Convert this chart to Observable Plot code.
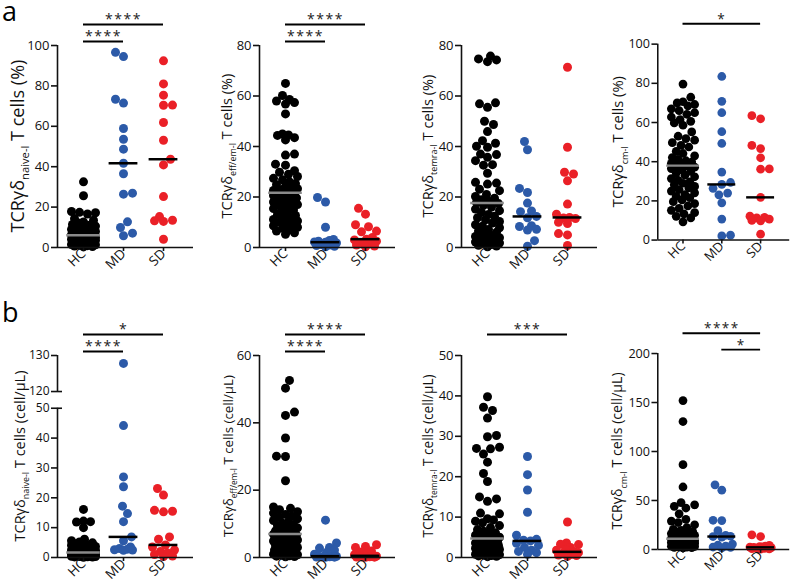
<!DOCTYPE html>
<html><head><meta charset="utf-8">
<script src="https://cdn.jsdelivr.net/npm/d3@7"></script>
<script src="https://cdn.jsdelivr.net/npm/@observablehq/plot@0.6"></script>
<style>
body{margin:0;background:#fff;}
#root{position:relative;width:796px;height:584px;overflow:hidden;font-family:"Open Sans",sans-serif;}
.panel{position:absolute;}
.letter{position:absolute;font-size:27px;line-height:27px;color:#000;font-family:"Open Sans",sans-serif;}
</style></head><body><div id="root"></div>
<script>
const groups = ["HC", "MD", "SD"];
const groupColors = ["#000000", "#2c5aa8", "#ea2027"];

// ---- row a: percentages ----
const naiveHC_pct = [32.5,25.6,17.8,17.4,17.2,16.6,14.3,13.5,12.6,12.1,11.4,11.0,10.6,10.4,9.8,9.5,9.2,9.0,8.6,8.4,8.1,7.9,7.6,7.5,7.2,7.0,6.9,6.7,6.6,6.4,6.3,6.2,6.0,5.8,5.7,5.5,5.3,5.2,5.0,4.8,4.6,4.5,4.3,4.1,3.9,3.8,3.5,3.4,3.2,3.0,2.9,2.7,2.5,2.3,2.1,2.0,1.8,1.5,1.3,1.1,0.9,0.7,0.5,0.3];
const naiveMD_pct = [96.6,94.5,73.4,71.5,58.9,53.6,48.7,41.7,36.5,26.9,26.4,12.7,9.9,7.1,5.8];
const naiveSD_pct = [92.4,81.0,75.4,70.5,70.4,61.9,53.1,43.7,40.9,25.2,15.3,13.5,13.2,12.9,4.1];

const effemHC_pct = [65.0,60.2,58.6,58.0,57.4,56.8,52.9,45.0,44.6,44.4,43.5,42.6,37.0,36.6,33.0,32.6,30.4,29.8,29.0,28.1,27.4,26.8,26.0,25.3,24.9,24.2,23.8,23.3,22.9,22.6,22.2,21.9,21.5,21.1,20.6,20.2,19.6,19.1,18.7,18.0,17.6,17.0,16.5,16.1,15.4,14.9,14.3,13.8,13.2,12.7,12.0,11.6,11.1,10.5,10.0,9.6,9.1,8.6,8.0,7.6,7.0,6.5,5.8,5.2];
const effemMD_pct = [19.8,18.0,8.0,3.2,2.8,2.5,2.2,2.1,1.8,1.5,1.2,1.0,0.8,0.5,0.3];
const effemSD_pct = [15.5,13.2,9.0,8.2,6.5,6.2,4.0,3.3,3.0,2.5,2.0,1.5,1.0,0.6,0.3];

const temraHC_pct = [75.8,74.7,74.3,73.6,57.3,56.9,55.5,50.0,48.7,45.9,42.3,41.3,40.1,39.7,37.0,36.8,35.7,34.4,32.8,32.6,29.4,25.8,25.5,25.1,23.1,22.5,21.0,20.2,19.5,18.9,18.3,17.8,17.4,16.7,16.0,15.2,14.6,13.9,13.1,12.4,11.8,11.0,10.3,9.7,9.0,8.4,7.8,7.1,6.5,6.0,5.4,4.9,4.4,3.9,3.5,3.0,2.6,2.2,1.8,1.5,1.2,0.9,0.6,0.3];
const temraMD_pct = [42.0,38.7,23.4,21.8,17.6,14.5,14.2,12.3,11.8,8.6,8.3,7.2,6.9,2.7,0.5];
const temraSD_pct = [71.4,39.7,29.8,29.1,26.4,17.2,13.2,11.9,11.7,11.5,10.0,9.5,5.5,5.0,0.8];

const cmHC_pct = [79.6,72.9,70.6,70.0,69.2,68.5,67.0,66.1,65.0,64.2,62.8,61.5,60.6,59.8,58.6,55.2,53.0,51.8,51.0,49.7,48.3,47.5,45.3,44.2,43.0,42.1,41.2,40.5,39.8,39.2,38.6,38.2,37.8,37.2,36.5,35.8,35.0,34.2,33.1,32.3,31.4,30.5,29.7,29.0,28.2,27.4,26.6,25.8,25.0,24.1,23.2,22.3,21.6,20.5,19.6,18.6,17.4,16.2,15.2,14.0,13.4,12.1,11.3,9.3];
const cmMD_pct = [83.5,70.8,65.0,55.3,49.3,34.7,29.4,28.4,26.4,24.0,23.1,19.0,10.7,2.5,2.1];
const cmSD_pct = [63.5,61.9,48.3,46.7,42.0,36.3,36.2,21.8,12.2,11.6,11.3,10.7,10.0,9.8,3.0];

// ---- row b: absolute counts (cell/µL) ----
const naiveHC_abs = [16.1,12.2,12.0,11.9,10.0,6.1,5.6,5.2,4.9,4.6,4.4,4.1,3.9,3.7,3.5,3.3,3.1,3.0,2.8,2.7,2.6,2.5,2.4,2.3,2.2,2.1,2.0,1.95,1.9,1.85,1.8,1.75,1.65,1.6,1.55,1.5,1.45,1.4,1.35,1.3,1.25,1.2,1.15,1.1,1.05,1.0,0.95,0.9,0.85,0.8,0.75,0.7,0.65,0.6,0.55,0.5,0.45,0.4,0.35,0.3,0.25,0.2,0.15,0.1];
const naiveMD_abs = [127.8,44.2,27.0,23.7,17.2,14.7,12.0,6.9,5.6,3.5,3.0,2.8,2.6,2.5,2.4];
const naiveSD_abs = [23.1,20.9,15.8,15.5,15.3,6.9,6.1,4.2,3.5,2.5,2.0,1.5,1.0,0.5,0.3];

const effemHC_abs = [52.6,50.3,43.2,42.2,35.5,30.1,30.0,22.8,15.0,14.6,14.2,13.6,13.2,12.8,12.3,11.9,11.5,11.0,10.6,10.2,9.8,9.5,9.1,8.8,8.5,8.2,7.9,7.7,7.5,7.3,7.2,7.1,6.9,6.7,6.4,6.1,5.8,5.5,5.2,4.9,4.6,4.3,4.0,3.7,3.5,3.2,3.0,2.8,2.6,2.4,2.2,2.0,1.8,1.6,1.5,1.3,1.1,1.0,0.8,0.7,0.5,0.4,0.3,0.2];
const effemMD_abs = [11.1,4.3,3.0,2.8,2.2,1.5,1.0,0.4,0.35,0.3,0.25,0.2,0.15,0.1,0.05];
const effemSD_abs = [3.8,3.3,3.0,1.9,1.6,1.2,0.8,0.5,0.4,0.3,0.25,0.2,0.15,0.1,0.05];

const temraHC_abs = [39.8,37.2,36.4,34.5,30.2,29.9,27.3,27.0,26.9,25.6,23.6,20.8,18.8,15.0,14.5,13.9,11.0,10.8,9.6,9.3,9.0,8.6,7.9,7.4,6.9,6.5,6.1,5.8,5.5,5.2,5.0,4.8,4.6,4.4,4.2,4.0,3.8,3.6,3.4,3.2,3.0,2.8,2.6,2.5,2.3,2.2,2.0,1.9,1.8,1.6,1.5,1.4,1.3,1.2,1.1,1.0,0.9,0.8,0.7,0.6,0.5,0.4,0.3,0.2];
const temraMD_abs = [25.0,20.5,16.7,11.2,5.5,4.5,4.3,4.1,3.5,3.0,2.5,1.8,1.5,1.2,0.8];
const temraSD_abs = [8.8,3.6,3.3,3.2,2.5,2.0,1.8,1.4,1.2,1.0,0.9,0.8,0.6,0.5,0.3];

const cmHC_abs = [152.0,130.6,86.6,63.8,47.9,45.6,44.0,42.3,36.4,30.7,29.0,27.5,25.2,22.4,20.6,19.5,18.3,17.6,16.9,16.2,15.6,15.0,14.4,13.9,13.4,12.9,12.5,12.1,11.8,11.5,11.2,11.0,10.8,10.5,10.2,9.9,9.6,9.3,9.0,8.7,8.4,8.1,7.8,7.5,7.2,6.9,6.6,6.3,6.0,5.7,5.4,5.1,4.8,4.5,4.2,3.9,3.6,3.3,3.0,2.7,2.4,2.1,1.8,1.5];
const cmMD_abs = [66.0,60.5,29.8,29.5,19.2,14.5,13.5,13.2,12.5,5.5,4.5,3.5,2.5,2.0,1.5];
const cmSD_abs = [14.9,13.2,4.3,3.5,3.0,2.6,2.4,2.2,1.9,1.6,1.3,1.0,0.8,0.5,0.3];

// tick labels
const ticksPct100 = [0,20,40,60,80,100];
const ticksPct80 = [0,20,40,60,80];
const ticksNaiveAbs = [0,10,20,30,40,50,120,130];
const ticksEffemAbs = [0,20,40,60];
const ticksTemraAbs = [0,10,20,30,40,50];
const ticksCmAbs = [0,50,100,150,200];

// significance: [from group, to group, stars, level(0 upper,1 lower)]
const sigA1 = [[0,2,"****",0],[0,1,"****",1]];
const sigA2 = [[0,2,"****",0],[0,1,"****",1]];
const sigA3 = [];
const sigA4 = [[0,2,"*",0]];
const sigB1 = [[0,2,"*",0],[0,1,"****",1]];
const sigB2 = [[0,2,"****",0],[0,1,"****",1]];
const sigB3 = [[0,2,"***",0]];
const sigB4 = [[0,2,"****",0],[1,2,"*",1]];

const subscripts = ["naive-l", "eff/em-l", "temra-l", "cm-l"];
const unitLabels = ["(%)", "(cell/\u00b5L)"];

// broken y axis for the naive absolute panel: 0–50 below the break, 120–130 above it
const breakLow = 50, breakHigh = 120, breakGap = 5.6, upperStretch = 1.207;
const brk = v => v <= breakLow ? v : breakLow + breakGap + (v - breakHigh) * upperStretch;
const ident = v => v;

// layout
const colLeft = [0, 202, 404, 602];
const rowTop = [0, 290];
const rowDims = [{h: 290, mt: 45, mb: 43}, {h: 294, mt: 65, mb: 27}];
const labelOff = [[33, 27, 28, 35], [32, 26, 28, 36]];
const labelLen = [[173, 145, 143, 135], [171, 162, 163, 162]];

const panels = [
  {row:0,col:0,series:[naiveHC_pct,naiveMD_pct,naiveSD_pct],max:100,ticks:ticksPct100,sig:sigA1,f:ident,tfs:13},
  {row:0,col:1,series:[effemHC_pct,effemMD_pct,effemSD_pct],max:80,ticks:ticksPct80,sig:sigA2,f:ident,tfs:13},
  {row:0,col:2,series:[temraHC_pct,temraMD_pct,temraSD_pct],max:80,ticks:ticksPct80,sig:sigA3,f:ident,tfs:13},
  {row:0,col:3,series:[cmHC_pct,cmMD_pct,cmSD_pct],max:100,ticks:ticksPct100,sig:sigA4,f:ident,tfs:13},
  {row:1,col:0,series:[naiveHC_abs,naiveMD_abs,naiveSD_abs],max:130,ticks:ticksNaiveAbs,sig:sigB1,f:brk,broken:true,tfs:12},
  {row:1,col:1,series:[effemHC_abs,effemMD_abs,effemSD_abs],max:60,ticks:ticksEffemAbs,sig:sigB2,f:ident,tfs:13},
  {row:1,col:2,series:[temraHC_abs,temraMD_abs,temraSD_abs],max:50,ticks:ticksTemraAbs,sig:sigB3,f:ident,tfs:13},
  {row:1,col:3,series:[cmHC_abs,cmMD_abs,cmSD_abs],max:200,ticks:ticksCmAbs,sig:sigB4,f:ident,tfs:13}
];

const W = 200, ML = 57, MR = 7;
const xDomain = [-0.65, 2.75];
const pxPerUnit = (W - ML - MR) / (xDomain[1] - xDomain[0]);
const R = 4.5;

function swarm(values, ypx, maxOff) {
  const order = d3.range(values.length).sort((a, b) => d3.ascending(values[a], values[b]));
  const placed = [];
  const off = new Array(values.length);
  order.forEach((i, n) => {
    const py = ypx(values[i]);
    const sgn = n % 2 ? 1 : -1;
    const cands = [0];
    for (let k = 1; k <= maxOff; k += 1) cands.push(sgn * k, -sgn * k);
    let best = 0, bestD = -1;
    for (const c of cands) {
      let md = Infinity;
      for (const p of placed) {
        const dy = p.y - py;
        if (Math.abs(dy) >= 2 * R) continue;
        const d = Math.hypot(p.x - c, dy);
        if (d < md) md = d;
      }
      if (md >= 2 * R - 0.3) { best = c; bestD = md; break; }
      if (md > bestD) { bestD = md; best = c; }
    }
    placed.push({x: best, y: py});
    off[i] = best;
  });
  return off;
}

const root = document.getElementById("root");

panels.forEach(p => {
  const dims = rowDims[p.row];
  const yTop = dims.mt, yBot = dims.h - dims.mb;
  const f = p.f;
  const yDomain = [0, f(p.max)];
  const yRange = [yBot, yTop];
  const yScale = Plot.scale({y: {domain: yDomain, range: yRange}});
  const ypx = v => yScale.apply(f(v));
  const ytop = f(p.max);
  const xMin = xDomain[0];

  const marks = [];
  p.series.forEach((vals, gi) => {
    const off = swarm(vals, ypx, gi === 0 ? 12 : 11);
    const rows = vals.map((v, k) => ({v: f(v), xp: gi + off[k] / pxPerUnit}));
    marks.push(Plot.dot(rows, {x: "xp", y: "v", r: R, fill: groupColors[gi], stroke: "none"}));
  });
  p.series.forEach((vals, gi) => {
    const half = gi === 0 ? 0.42 : 0.36;
    marks.push(Plot.ruleY([f(d3.median(vals))], {x1: gi - half, x2: gi + half, stroke: gi === 0 ? "#8a8a8a" : "#000", strokeWidth: 2.5}));
  });
  marks.push(Plot.ruleY([0], {x1: xMin, x2: xDomain[1], stroke: "#111", strokeWidth: 1.6}));
  if (p.broken) {
    marks.push(Plot.ruleX([[0, breakLow], [breakHigh, p.max]], {x: () => xMin, y1: d => f(d[0]), y2: d => f(d[1]), stroke: "#111", strokeWidth: 1.6}));
    marks.push(Plot.ruleY([breakLow, breakHigh].map(f), {x1: () => xMin, x2: () => xMin + 5 / pxPerUnit, stroke: "#111", strokeWidth: 1.6}));
  } else {
    marks.push(Plot.ruleX([xMin], {y1: 0, y2: ytop, stroke: "#111", strokeWidth: 1.6}));
  }
  const tickLabel = new Map(p.ticks.map(t => [f(t), String(t)]));
  marks.push(Plot.axisY({ticks: p.ticks.map(f), tickSize: 6, tickPadding: 2, fontSize: p.tfs, strokeWidth: 1.6, label: null, tickFormat: d => tickLabel.get(d)}));
  marks.push(Plot.axisX({ticks: [0, 1, 2], tickSize: 4, tickPadding: 0, fontSize: 13.5, strokeWidth: 1.6, tickRotate: -45, label: null, tickFormat: i => groups[i]}));
  [0, 1].forEach(level => {
    const s = p.sig.filter(d => d[3] === level);
    if (!s.length) return;
    const dy = level === 0 ? -21 : -4;
    marks.push(Plot.ruleY(s, {x1: d => d[0], x2: d => d[1], y: () => ytop, dy, stroke: "#000", strokeWidth: 2}));
    marks.push(Plot.text(s, {x: d => (d[0] + d[1]) / 2, y: () => ytop, dy: dy - 4.5, text: d => d[2], fontSize: 14, lineAnchor: "middle", fill: "#222"}));
  });

  const svg = Plot.plot({
    width: W, height: dims.h,
    marginLeft: ML, marginRight: MR, marginTop: dims.mt, marginBottom: dims.mb,
    x: {domain: xDomain, axis: null},
    y: {domain: yDomain, range: yRange, axis: null},
    style: {fontFamily: "Open Sans", color: "#111", background: "transparent", overflow: "visible"},
    marks
  });

  const div = document.createElement("div");
  div.className = "panel";
  div.style.left = colLeft[p.col] + "px";
  div.style.top = rowTop[p.row] + "px";
  div.appendChild(svg);
  root.appendChild(div);

  const sel = d3.select(svg);
  sel.selectAll("text").filter(function() { return /^\*+$/.test(this.textContent); }).attr("letter-spacing", "1.5px");
  const t = sel.append("text")
    .attr("transform", `translate(${ML - labelOff[p.row][p.col]},${(yTop + yBot) / 2}) rotate(-90)`)
    .attr("text-anchor", "middle").attr("fill", "#111");
  t.append("tspan").text("TCR\u03b3\u03b4");
  const t2 = t.append("tspan").text(subscripts[p.col]);
  const t3 = t.append("tspan").text(" T cells " + unitLabels[p.row]);
  const setSize = s => {
    t.attr("font-size", s);
    t2.attr("dy", s * 0.3).attr("font-size", s * 0.62);
    t3.attr("dy", -s * 0.3);
  };
  setSize(15);
  const len = t.node().getComputedTextLength();
  if (len > 0) setSize(15 * labelLen[p.row][p.col] / len);
});

["a", "b"].forEach((L, i) => {
  const d = document.createElement("div");
  d.className = "letter";
  d.textContent = L;
  d.style.left = "2px";
  d.style.top = (i === 0 ? -3 : 298) + "px";
  root.appendChild(d);
});
</script></body></html>
